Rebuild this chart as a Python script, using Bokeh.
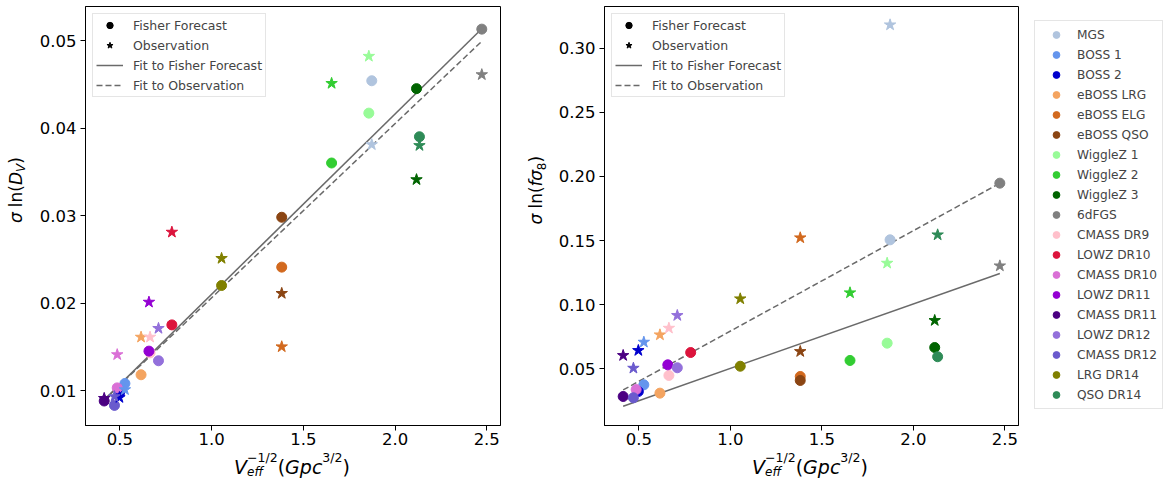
import math
import numpy as np
from bokeh.plotting import figure
from bokeh.models import (Range1d, FixedTicker, PrintfTickFormatter, Legend,
                          LegendItem, Label, ColumnDataSource)
from bokeh.layouts import row, column
from bokeh.embed import file_html
from bokeh.resources import INLINE

# ---------------- data ----------------
surveys = ["MGS", "BOSS 1", "BOSS 2", "eBOSS LRG", "eBOSS ELG", "eBOSS QSO",
           "WiggleZ 1", "WiggleZ 2", "WiggleZ 3", "6dFGS", "CMASS DR9",
           "LOWZ DR10", "CMASS DR10", "LOWZ DR11", "CMASS DR11", "LOWZ DR12",
           "CMASS DR12", "LRG DR14", "QSO DR14"]
colors = ["lightsteelblue", "cornflowerblue", "mediumblue", "sandybrown",
          "chocolate", "saddlebrown", "palegreen", "limegreen", "darkgreen",
          "gray", "pink", "crimson", "orchid", "darkviolet", "indigo",
          "mediumpurple", "slateblue", "olive", "seagreen"]
v_eff = [1.873, 0.527, 0.497, 0.615, 1.382, 1.382, 1.857, 1.654, 2.117, 2.473,
         0.664, 0.783, 0.485, 0.658, 0.414, 0.710, 0.470, 1.054, 2.133]
dv_fisher = [0.0454, 0.0108, 0.0097, 0.0118, 0.0241, 0.0298, 0.0417, 0.0360,
             0.0445, 0.0513, 0.0143, 0.0175, 0.0103, 0.0145, 0.0088, 0.0134,
             0.0083, 0.0220, 0.0390]
dv_obs = [0.0381, 0.0101, 0.0092, 0.0161, 0.0150, 0.0211, 0.0482, 0.0451,
          0.0341, 0.0461, 0.0161, 0.0281, 0.0141, 0.0201, 0.0091, 0.0171,
          0.0093, 0.0251, 0.0380]
fs8_fisher = [0.1506, 0.0375, 0.0323, 0.0310, 0.0440, 0.0409, 0.0700, 0.0565,
              0.0666, 0.1948, 0.0448, 0.0627, 0.0338, 0.0531, 0.0284, 0.0508,
              0.0274, 0.0520, 0.0594]
fs8_obs = [0.3183, 0.0708, 0.0643, 0.0765, 0.1522, 0.0635, 0.1324, 0.1093,
           0.0877, 0.1303, 0.0817, None, None, None, 0.0604, 0.0916,
           0.0505, 0.1046, 0.1545]
# linear fits (slope, intercept)
fit_dv_fisher = [0.0206, 0.0004]
fit_dv_obs = [0.0199, 0.0007]
fit_fs8_fisher = [0.0503, 0.0000]
fit_fs8_obs = [0.0783, 0.0011]

x_ticks = [0.5, 1.0, 1.5, 2.0, 2.5]
dv_ticks = [0.01, 0.02, 0.03, 0.04, 0.05]
fs8_ticks = [0.05, 0.10, 0.15, 0.20, 0.25, 0.30]

# ---------------- style / layout ----------------
FONT = "DejaVu Sans"
FIT_COLOR = "#6a6a6a"
TOTAL_H = 479
FRAME_W = 417
FRAME_H = 419
TOP = 6
MAIN_H = 451             # main panel canvas height
XL_H = TOTAL_H - MAIN_H  # x-label strip
MID = 0.35               # centre of text box above baseline (em)
EM = {' ': 0.318, '(': 0.390, ')': 0.390, 'l': 0.278, 'n': 0.634,
      'σ': 0.602, 'D': 0.770, 'V': 0.684, 'G': 0.775, 'p': 0.635,
      'c': 0.550, 'e': 0.615, 'f': 0.352, '8': 0.636, '1': 0.636,
      '2': 0.636, '3': 0.636, '/': 0.337, '−': 0.838}


def text_w(s, size):
    return sum(EM.get(ch, 0.6) for ch in s) * size


def blank(width, height, top=0):
    f = figure(width=width, height=height, x_range=Range1d(0, 1),
               y_range=Range1d(0, 1), x_axis_type=None, y_axis_type=None,
               title=None, output_backend="svg", toolbar_location=None,
               min_border_left=0, min_border_right=0, min_border_top=top,
               min_border_bottom=0)
    f.outline_line_color = None
    f.xgrid.visible = False
    f.ygrid.visible = False
    f.background_fill_color = "white"
    f.border_fill_color = "white"
    return f


def math_label(p, pieces, cx, cy, vertical):
    """pieces: (text, size, style, baseline shift, advances); cx/cy: baseline pos."""
    total = sum(text_w(t, sz) for t, sz, st, sh, adv in pieces if adv)
    cum = 0.0
    for t, sz, st, sh, adv in pieces:
        w = text_w(t, sz)
        if t.strip():
            along = -total / 2 + cum + w / 2
            up = sh + MID * sz
            if vertical:
                x, y, ang = cx - up, cy + along, math.pi / 2
            else:
                x, y, ang = cx + along, cy + up, 0.0
            p.add_layout(Label(x=x, y=y, x_units="screen", y_units="screen",
                               text=t, angle=ang, text_font=FONT,
                               text_font_size=f"{sz}px", text_font_style=st,
                               text_color="black", text_align="center",
                               text_baseline="middle"))
        if adv:
            cum += w


xlabel_pieces = [("V", 19, "italic", 0, True), ("eff", 12, "italic", -3, False),
                 ("−1/2", 12.5, "normal", 12, True), ("(", 19, "normal", 0, True),
                 ("Gpc", 19, "italic", 0, True), ("3/2", 12.5, "normal", 12, True),
                 (")", 19, "normal", 0, True)]
ylabel_dv = [("σ", 17, "italic", 0, True), (" ", 17, "normal", 0, True),
             ("ln(", 17, "normal", 0, True), ("D", 17, "italic", 0, True),
             ("V", 12, "italic", -4, True), (")", 17, "normal", 0, True)]
ylabel_fs8 = [("σ", 17, "italic", 0, True), (" ", 17, "normal", 0, True),
              ("ln(", 17, "normal", 0, True), ("fσ", 17, "italic", 0, True),
              ("8", 12, "normal", -4, True), (")", 17, "normal", 0, True)]


def make_panel(width, bl, br, y0, ppu, yticks, fisher, obs, fit_f, fit_o):
    p = figure(width=width, height=MAIN_H, x_range=Range1d(0.312, 2.575),
               y_range=Range1d(y0, y0 + FRAME_H / ppu), title=None,
               output_backend="svg", toolbar_location=None,
               min_border_left=bl, min_border_right=br, min_border_top=TOP,
               min_border_bottom=MAIN_H - TOP - FRAME_H)
    p.xgrid.visible = False
    p.ygrid.visible = False
    p.outline_line_color = "black"
    p.outline_line_width = 1
    p.background_fill_color = "white"
    p.border_fill_color = "white"
    p.xaxis.ticker = FixedTicker(ticks=x_ticks)
    p.yaxis.ticker = FixedTicker(ticks=yticks)
    p.xaxis.formatter = PrintfTickFormatter(format="%.1f")
    p.yaxis.formatter = PrintfTickFormatter(format="%.2f")
    for ax in (p.xaxis, p.yaxis):
        ax.major_label_text_font = FONT
        ax.major_label_text_font_size = "16.5px"
        ax.major_label_text_color = "black"
        ax.major_tick_out = 5
        ax.major_tick_in = 0
        ax.minor_tick_out = 0
        ax.minor_tick_in = 0
        ax.axis_line_color = "black"
        ax.major_tick_line_color = "black"
    p.xaxis.major_label_standoff = 2
    p.yaxis.major_label_standoff = 4

    xs = [min(v_eff), max(v_eff)]
    lf = p.line(xs, [fit_f[0] * x + fit_f[1] for x in xs], line_color=FIT_COLOR,
                line_width=1.5)
    lo = p.line(xs, [fit_o[0] * x + fit_o[1] for x in xs], line_color=FIT_COLOR,
                line_width=1.5, line_dash="6 3")

    src = ColumnDataSource(dict(x=v_eff, f=np.array(fisher, dtype=float),
                                o=np.array(obs, dtype=float), c=colors))
    p.scatter("x", "f", source=src, marker="circle", size=10, color="c")
    p.scatter("x", "o", source=src, marker="star", size=12, color="c")

    rc = p.scatter(x=[np.nan], y=[np.nan], marker="circle", size=10, color="black")
    rs = p.scatter(x=[np.nan], y=[np.nan], marker="star", size=10, color="black")
    leg = Legend(items=[LegendItem(label="Fisher Forecast", renderers=[rc]),
                        LegendItem(label="Observation", renderers=[rs]),
                        LegendItem(label="Fit to Fisher Forecast", renderers=[lf]),
                        LegendItem(label="Fit to Observation", renderers=[lo])],
                 location="top_left", margin=7, padding=3, spacing=4,
                 glyph_width=27, glyph_height=16, label_height=16,
                 label_standoff=10, label_text_font=FONT,
                 label_text_font_size="12.5px", border_line_color="#cccccc",
                 border_line_width=1, background_fill_alpha=0.85)
    p.add_layout(leg)
    return p


# left column: y-label strip | panel ; x-label strip below
YL1_W, P1_W = 36, 491
yl1 = blank(YL1_W, MAIN_H)
math_label(yl1, ylabel_dv, 21, MAIN_H - (TOP + FRAME_H / 2), True)
p1 = make_panel(P1_W, 83 - YL1_W, P1_W - (83 - YL1_W) - FRAME_W, 0.0060, 8750,
                dv_ticks, dv_fisher, dv_obs, fit_dv_fisher, fit_dv_obs)
xl1 = blank(YL1_W + P1_W, XL_H)
math_label(xl1, xlabel_pieces, 83 + FRAME_W / 2, 6, False)
col1 = column(row(yl1, p1), xl1)

# right column
X0 = YL1_W + P1_W          # 527
YL2_W = 28
P2_W = 1026 - X0 - YL2_W   # 471
yl2 = blank(YL2_W, MAIN_H)
math_label(yl2, ylabel_fs8, 541 - X0, MAIN_H - (TOP + FRAME_H / 2), True)
p2 = make_panel(P2_W, 601 - X0 - YL2_W, P2_W - (601 - X0 - YL2_W) - FRAME_W,
                0.00577, 1282, fs8_ticks, fs8_fisher, fs8_obs,
                fit_fs8_fisher, fit_fs8_obs)
xl2 = blank(YL2_W + P2_W, XL_H)
math_label(xl2, xlabel_pieces, 601 - X0 + FRAME_W / 2, 6, False)
col2 = column(row(yl2, p2), xl2)

# colour legend panel
p3 = blank(140, TOTAL_H, top=12)
items = []
for name, col in zip(surveys, colors):
    r = p3.scatter(x=[np.nan], y=[np.nan], marker="circle", size=8, color=col)
    items.append(LegendItem(label=name, renderers=[r]))
leg3 = Legend(items=items, location="top_left", margin=8, padding=5, spacing=3,
              glyph_width=32, glyph_height=17, label_height=17, label_standoff=5,
              label_text_font=FONT, label_text_font_size="12.2px",
              border_line_color="#cccccc", border_line_width=1)
p3.add_layout(leg3)

layout = row(col1, col2, p3)
open("out.html", "w").write(file_html(layout, INLINE))
